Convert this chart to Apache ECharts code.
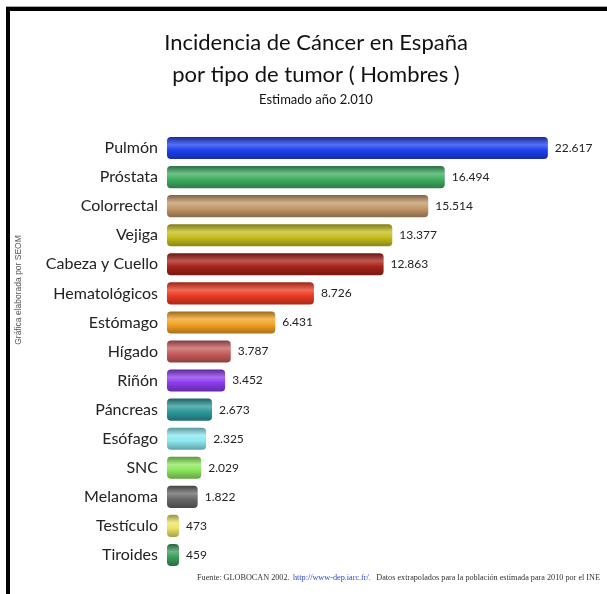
<!DOCTYPE html>
<html>
<head>
<meta charset="utf-8">
<script src="https://cdn.jsdelivr.net/npm/echarts@6/dist/echarts.min.js"></script>
<style>
html,body{margin:0;padding:0;background:#fff;}
#main{width:607px;height:594px;}
</style>
</head>
<body>
<div id="main"></div>
<script>
const categories = ['Pulmón','Próstata','Colorrectal','Vejiga','Cabeza y Cuello','Hematológicos','Estómago','Hígado','Riñón','Páncreas','Esófago','SNC','Melanoma','Testículo','Tiroides'];
const values = [22617,16494,15514,13377,12863,8726,6431,3787,3452,2673,2325,2029,1822,473,459];
const palette = ['#1e40f0','#3fae62','#c49868','#c4be1c','#a8221a','#ee3a22','#f2a224','#c85c5c','#8c3cec','#2c9a9c','#8ce8f0','#8ce85e','#686868','#ece468','#3c9c5c'];

function shade(hex, amt){
  const n = parseInt(hex.slice(1),16);
  let r=(n>>16)&255,g=(n>>8)&255,b=n&255;
  const f = c => Math.max(0,Math.min(255,Math.round(amt>0 ? c+(255-c)*amt : c*(1+amt))));
  return 'rgb('+f(r)+','+f(g)+','+f(b)+')';
}
function fmt(v){ return String(v).replace(/\B(?=(\d{3})+(?!\d))/g,'.'); }

const chart = echarts.init(document.getElementById('main'));
chart.setOption({
  backgroundColor:'#fff',
  animation:false,
  title:{
    text:'Incidencia de Cáncer en España\npor tipo de tumor ( Hombres )',
    subtext:'Estimado año 2.010',
    left:311, top:22, textAlign:'center', itemGap:0,
    textStyle:{fontFamily:'Lato',fontWeight:'normal',fontSize:22,lineHeight:32,color:'#111'},
    subtextStyle:{fontFamily:'Lato',fontSize:13,color:'#111',lineHeight:17}
  },
  grid:{left:167, right:19, top:133.5, bottom:24.5, containLabel:false},
  xAxis:{type:'value', min:0, max:25000, show:false},
  yAxis:{type:'category', data:categories, inverse:true,
    axisLine:{show:false}, axisTick:{show:false},
    axisLabel:{fontFamily:'Lato',fontSize:16,color:'#222',margin:9}},
  series:[{
    type:'bar',
    data:values.map((v,i)=>({value:v,itemStyle:{
      color:new echarts.graphic.LinearGradient(0,0,0,1,[
        {offset:0,color:shade(palette[i],-0.35)},
        {offset:0.35,color:shade(palette[i],0.25)},
        {offset:0.6,color:palette[i]},
        {offset:1,color:shade(palette[i],-0.3)}
      ]),
      borderRadius:4
    }})),
    barCategoryGap:'24%',
    barMinHeight:12,
    label:{show:true, position:'right', distance:7, fontFamily:'Lato', fontSize:12, color:'#222',
      formatter:p=>fmt(p.value)}
  }],
  graphic:[
    {type:'rect', shape:{x:6,y:6,width:601,height:1}, style:{fill:'#aaa'}},
    {type:'rect', shape:{x:6,y:7,width:601,height:4}, style:{fill:'#000'}},
    {type:'rect', shape:{x:6,y:7,width:4,height:587}, style:{fill:'#000'}},
    {type:'text', x:19, y:290, rotation:Math.PI/2,
      style:{text:'Gráfica elaborada por SEOM', fill:'#555', font:'8.5px "Liberation Sans"', align:'center', verticalAlign:'middle'}},
    {type:'text', x:197, y:578,
      style:{
        text:'{a|Fuente: GLOBOCAN 2002.} {b|http://www-dep.iarc.fr/.} {a| Datos extrapolados para la población estimada para 2010 por el INE}',
        verticalAlign:'middle',
        rich:{
          a:{fontFamily:'Liberation Serif',fontSize:8.2,fill:'#333'},
          b:{fontFamily:'Liberation Serif',fontSize:8.2,fill:'#2a4ad0',textDecoration:'underline'}
        }
      }}
  ]
});
</script>
</body>
</html>
